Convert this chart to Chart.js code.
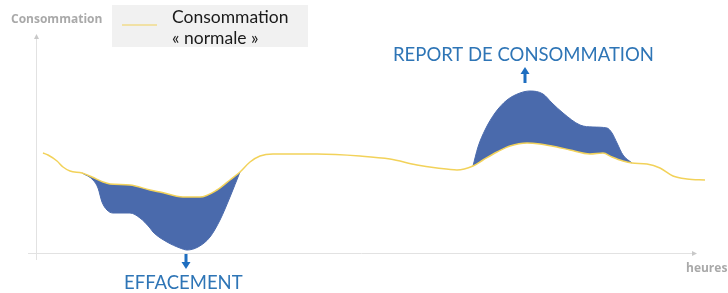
<!DOCTYPE html>
<html>
<head>
<meta charset="utf-8">
<script src="https://cdn.jsdelivr.net/npm/chart.js@4.4.0/dist/chart.umd.min.js"></script>
<style>
html,body{margin:0;padding:0;background:#fff;}
#wrap{position:relative;width:728px;height:293px;}
</style>
</head>
<body>
<div id="wrap"><canvas id="c" width="728" height="293"></canvas></div>
<script>
// Consommation "normale" (x = time units, y = consumption units)
const normalX = [7,12,21,27,34,46,56,67,74,94,114,124,147,164,181,194,204,214,224,237,281,324,354,381,401,421,437,447,461,474,491,504,521,534,554,567,576,587,596,611,624,637,651,669];
const normalY = [100,98,92,86,82,80,76,71,69,68,63,61,56,56,63,73,81,91,97,99,99,97,94,88,85,83,87,93,101,107,110,109,106,103,99,100,96,92,90,89,85,77,74,73];
// Consommation pendant l'effacement (courbe basse)
const effX = [46,57,62,66,71,77,94,104,114,117,131,144,151,162,174,184,194,204];
const effY = [80,73,65,51,43,40,40,35,25,21,11,5,3,6,16,33,56,81];
// Consommation avec report (courbe haute)
const repX = [437,442,449,459,471,484,494,507,516,527,544,557,571,576,581,587,596];
const repY = [87,106,123,140,153,160,162,159,150,140,128,126,125,120,110,98,90];

const xMax = 676, yMax = 223;
const toPts = (xs, ys) => xs.map((x, i) => ({x, y: ys[i]}));

const BLUE_FILL = 'rgb(74,106,172)';
const YELLOW = '#F2D25A';
const GRAY = '#a9a9a9';
const LABEL_BLUE = '#2E75B6';
const ARROW_BLUE = '#1E6EC0';

const deco = {
  id: 'deco',
  beforeDatasetsDraw(chart) {
    const ctx = chart.ctx, sx = chart.scales.x, sy = chart.scales.y;
    const ax = sx.getPixelForValue(0), ay = sy.getPixelForValue(0);
    ctx.save();
    ctx.strokeStyle = '#e2e2e2';
    ctx.lineWidth = 1;
    ctx.beginPath();
    ctx.moveTo(28, ay + 0.5); ctx.lineTo(sx.getPixelForValue(659), ay + 0.5);
    ctx.moveTo(ax + 0.5, ay + 7); ctx.lineTo(ax + 0.5, sy.getPixelForValue(216));
    ctx.stroke();
    ctx.fillStyle = '#c8c8c8';
    const xe = sx.getPixelForValue(661);
    ctx.beginPath(); ctx.moveTo(xe, ay + 0.5); ctx.lineTo(xe - 5, ay - 2); ctx.lineTo(xe - 5, ay + 3); ctx.fill();
    const ye = sy.getPixelForValue(219);
    ctx.beginPath(); ctx.moveTo(ax + 0.5, ye); ctx.lineTo(ax - 2, ye + 5); ctx.lineTo(ax + 3, ye + 5); ctx.fill();
    ctx.restore();
  },
  afterDraw(chart) {
    const ctx = chart.ctx;
    ctx.save();
    // axis titles
    ctx.fillStyle = GRAY;
    ctx.font = 'bold 12px "Open Sans"';
    ctx.textBaseline = 'middle';
    ctx.textAlign = 'left';
    ctx.fillText('Consommation', 11, 20);
    ctx.fillText('heures', 686, 269);
    // legend box
    ctx.fillStyle = '#f1f1f1';
    ctx.fillRect(112, 5, 196, 42);
    ctx.strokeStyle = YELLOW; ctx.lineWidth = 1.2;
    ctx.beginPath(); ctx.moveTo(122, 25); ctx.lineTo(157, 25); ctx.stroke();
    ctx.fillStyle = '#1a1a1a';
    ctx.font = '17.5px Lato';
    ctx.fillText('Consommation', 172, 17);
    ctx.fillText('« normale »', 172, 38);
    // annotations
    ctx.fillStyle = LABEL_BLUE;
    ctx.font = '18.5px Lato';
    ctx.fillText('REPORT DE CONSOMMATION', 393, 55);
    ctx.fillText('EFFACEMENT', 124, 283);
    // arrows
    ctx.fillStyle = ARROW_BLUE;
    ctx.fillRect(523.5, 73, 3, 10);
    ctx.beginPath(); ctx.moveTo(525, 67); ctx.lineTo(520.5, 74); ctx.lineTo(529.5, 74); ctx.fill();
    ctx.fillRect(184.5, 254, 3, 9);
    ctx.beginPath(); ctx.moveTo(186, 269); ctx.lineTo(181.5, 262); ctx.lineTo(190.5, 262); ctx.fill();
    ctx.restore();
  }
};

new Chart(document.getElementById('c'), {
  type: 'line',
  data: {
    datasets: [
      {
        label: 'Consommation « normale »',
        data: toPts(normalX, normalY),
        borderColor: YELLOW, borderWidth: 1.5,
        pointRadius: 0, cubicInterpolationMode: 'monotone',
        fill: false, order: 0
      },
      {
        label: 'Effacement',
        data: toPts(effX, effY),
        borderColor: BLUE_FILL, borderWidth: 1,
        backgroundColor: BLUE_FILL,
        pointRadius: 0, cubicInterpolationMode: 'monotone',
        fill: 0, order: 1
      },
      {
        label: 'Report',
        data: toPts(repX, repY),
        borderColor: BLUE_FILL, borderWidth: 1,
        backgroundColor: BLUE_FILL,
        pointRadius: 0, cubicInterpolationMode: 'monotone',
        fill: 0, order: 1
      }
    ]
  },
  options: {
    responsive: false,
    animation: false,
    events: [],
    layout: { padding: { left: 36, right: 16, top: 30, bottom: 40 } },
    scales: {
      x: { type: 'linear', min: 0, max: xMax, display: false },
      y: { type: 'linear', min: 0, max: yMax, display: false }
    },
    plugins: { legend: { display: false }, tooltip: { enabled: false } }
  },
  plugins: [deco]
});
</script>
</body>
</html>
